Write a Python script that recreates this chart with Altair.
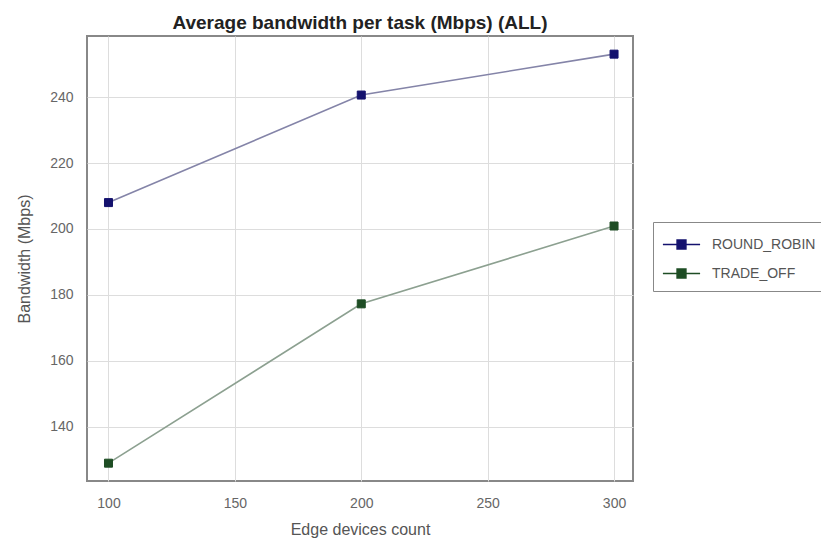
import altair as alt
import pandas as pd

counts = [100, 200, 300]
series_names = ["ROUND_ROBIN", "TRADE_OFF"]
round_robin = [208.0, 240.6, 253.0]
trade_off = [129.0, 177.3, 200.9]

rows = []
for c, v in zip(counts, round_robin):
    rows.append({"count": c, "bw": v, "series": "ROUND_ROBIN"})
for c, v in zip(counts, trade_off):
    rows.append({"count": c, "bw": v, "series": "TRADE_OFF"})
df = pd.DataFrame(rows)

marker_colors = ["#14126e", "#1e4d24"]
line_colors = ["#8484a8", "#8ca090"]

x = alt.X("count:Q", title="Edge devices count",
          scale=alt.Scale(domain=[91.5, 307.5], nice=False, zero=False),
          axis=alt.Axis(values=[100, 150, 200, 250, 300], format="d"))
y = alt.Y("bw:Q", title="Bandwidth (Mbps)",
          scale=alt.Scale(domain=[123.6, 258.5], nice=False, zero=False),
          axis=alt.Axis(values=[140, 160, 180, 200, 220, 240], format="d"))

base = alt.Chart(df)
line_layers = [
    base.transform_filter(alt.datum.series == name)
        .mark_line(strokeWidth=1.6, color=col)
        .encode(x=x, y=y)
    for name, col in zip(series_names, line_colors)
]

def make_legend():
    return alt.Legend(title=None, orient="none", legendX=566, legendY=186,
                      symbolType="M-1.6,0L1.6,0M-0.38,-0.38L0.38,-0.38L0.38,0.38L-0.38,0.38Z",
                      symbolSize=540, symbolStrokeWidth=1.5, symbolOffset=6,
                      labelFontSize=14, labelColor="#555", labelFont="Liberation Sans",
                      strokeColor="#888", padding=10, rowPadding=9,
                      labelOffset=18, labelLimit=300)

points = base.mark_point(shape="square", filled=True, size=64, opacity=1, strokeWidth=1).encode(
    x=x, y=y,
    color=alt.Color("series:N", scale=alt.Scale(domain=series_names, range=marker_colors),
                    legend=make_legend()),
    stroke=alt.Stroke("series:N", scale=alt.Scale(domain=series_names, range=marker_colors),
                      legend=make_legend()),
)

chart = alt.layer(*line_layers, points).properties(
    width=546, height=445,
    title=alt.TitleParams("Average bandwidth per task (Mbps) (ALL)", fontSize=19, fontWeight="bold",
                          font="Liberation Sans", color="#222", offset=3, anchor="middle"),
    autosize=alt.AutoSizeParams(type="none"),
    padding={"left": 79, "top": 28, "right": 188, "bottom": 62},
).configure_view(
    stroke="#888", strokeWidth=2
).configure_axis(
    grid=True, gridColor="#dddddd", gridWidth=1, domain=False, ticks=False,
    labelFontSize=14, labelColor="#666", labelFont="Liberation Sans",
    titleFontSize=16, titleColor="#555", titleFont="Liberation Sans", titleFontWeight="normal",
).configure_axisY(
    labelPadding=14, titlePadding=17
).configure_axisX(
    labelPadding=15, titlePadding=11
)

chart.save("out.html", embed_options={"renderer": "svg", "actions": False})
